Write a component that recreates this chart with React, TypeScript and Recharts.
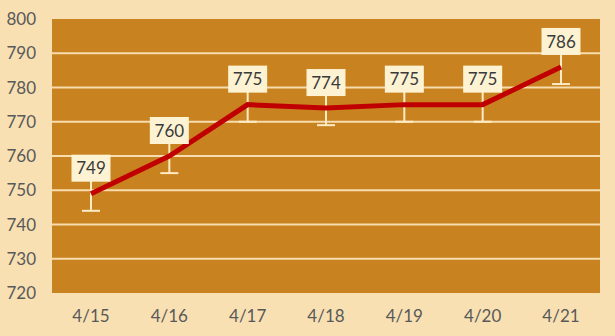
import { CartesianGrid, ErrorBar, LabelList, Line, LineChart, XAxis, YAxis } from 'recharts'

const dates = ['4/15', '4/16', '4/17', '4/18', '4/19', '4/20', '4/21']
const prices = [749, 760, 775, 774, 775, 775, 786]
const spread = [5, 5, 5, 5, 5, 5, 5]
const yTicks = [720, 730, 740, 750, 760, 770, 780, 790, 800]
const gridLines = [730, 740, 750, 760, 770, 780, 790]

const data = dates.map((d, i) => ({ d, price: prices[i], err: spread[i] }))

const FONT = 'Lato, "Open Sans", sans-serif'

// cream value tag sitting just above each point
function PriceTag(props: any) {
  const { x, y, value } = props
  const w = 39
  const h = 27
  const top = y - 12 - h
  return (
    <g>
      <rect x={x - w / 2} y={top} width={w} height={h} fill="#fdf3d2" />
      <text
        x={x}
        y={top + h / 2}
        dy="0.36em"
        textAnchor="middle"
        fontSize={17}
        fontFamily={FONT}
        fill="#3a3a3a"
      >
        {value}
      </text>
    </g>
  )
}

export default function App() {
  return (
    <div style={{ position: 'fixed', left: 0, top: 0, width: 615, height: 336, background: '#f8e0b2' }}>
      <LineChart width={615} height={336} data={data} margin={{ top: 19, right: 15, bottom: 13, left: 0 }}>
        <CartesianGrid
          vertical={false}
          horizontalValues={gridLines}
          fill="#c8821f"
          fillOpacity={1}
          stroke="#f6dcae"
          strokeWidth={2}
        />
        <XAxis
          dataKey="d"
          axisLine={false}
          tickLine={false}
          tickMargin={11}
          height={30}
          padding={{ left: 39, right: 39 }}
          tick={{ fontSize: 17, fill: '#595959', fontFamily: FONT }}
        />
        <YAxis
          domain={[720, 800]}
          ticks={yTicks}
          axisLine={false}
          tickLine={false}
          tickMargin={10}
          width={52}
          tick={{ fontSize: 17, fill: '#595959', fontFamily: FONT }}
        />
        <Line
          dataKey="price"
          stroke="#c00000"
          strokeWidth={5}
          dot={false}
          activeDot={false}
          isAnimationActive={false}
        >
          <ErrorBar dataKey="err" direction="y" width={9} stroke="#fdebc6" strokeWidth={2} isAnimationActive={false} />
          <LabelList dataKey="price" content={PriceTag} />
        </Line>
      </LineChart>
    </div>
  )
}
